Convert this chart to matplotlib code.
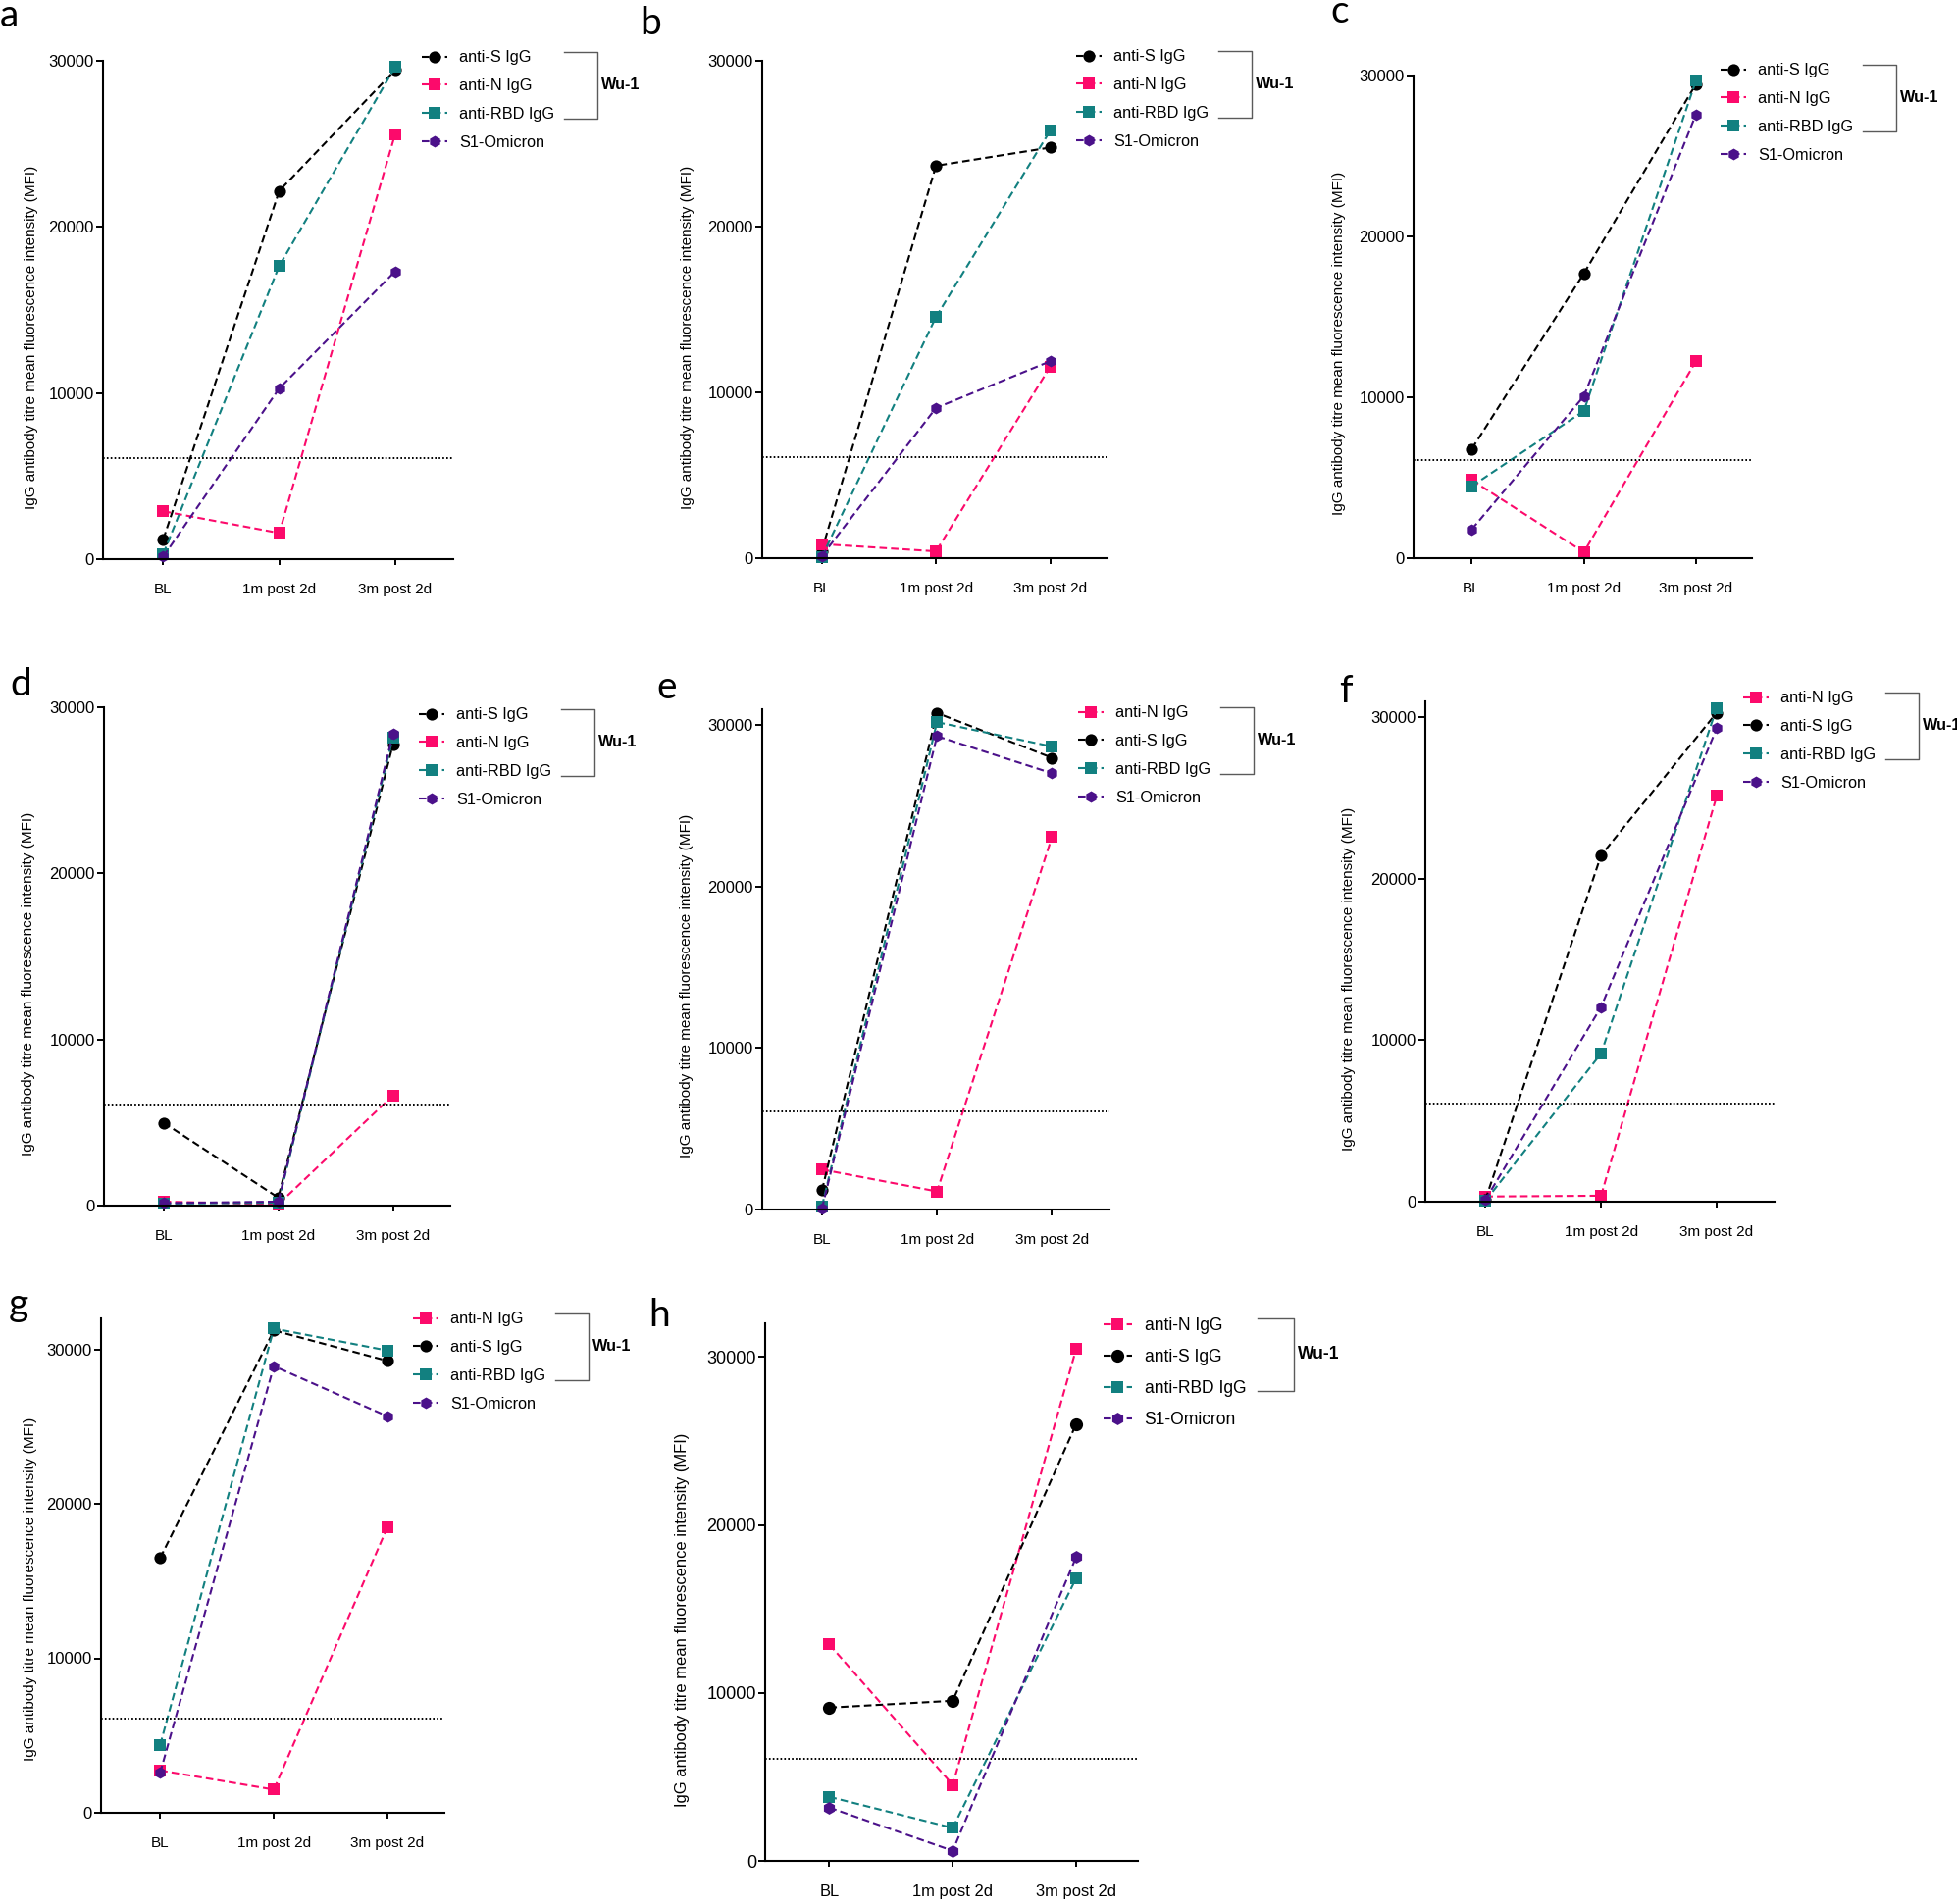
import matplotlib
matplotlib.use("Agg")
import matplotlib.pyplot as plt
from matplotlib.lines import Line2D

plt.rcParams['font.family'] = ['Liberation Sans', 'DejaVu Sans']
plt.rcParams['lines.scale_dashes'] = False

# ---- data (MFI), one row per panel a..h, columns = timepoints ----
timepoints = ['BL', '1m post 2d', '3m post 2d']
panels = ['a', 'b', 'c', 'd', 'e', 'f', 'g', 'h']

anti_s = [
    [1200, 22170, 29450],
    [430, 23670, 24770],
    [6790, 17700, 29470],
    [4990, 480, 27760],
    [1190, 30770, 27990],
    [120, 21460, 30300],
    [16490, 31220, 29250],
    [9120, 9530, 26000],
]
anti_n = [
    [2880, 1570, 25600],
    [850, 410, 11560],
    [4850, 370, 12240],
    [240, 70, 6630],
    [2480, 1120, 23080],
    [320, 370, 25140],
    [2740, 1500, 18500],
    [12880, 4520, 30480],
]
anti_rbd = [
    [320, 17660, 29640],
    [50, 14550, 25800],
    [4470, 9150, 29680],
    [120, 170, 28190],
    [200, 30200, 28690],
    [50, 9180, 30600],
    [4390, 31340, 29920],
    [3810, 1960, 16830],
]
s1_omicron = [
    [150, 10280, 17330],
    [120, 9060, 11880],
    [1790, 10070, 27590],
    [150, 240, 28390],
    [70, 29330, 27030],
    [120, 12060, 29330],
    [2580, 28910, 25660],
    [3170, 600, 18090],
]
threshold = 6100
y_max = [30000, 30000, 30000, 30000, 31000, 31000, 32000, 32000]
yticks = [0, 10000, 20000, 30000]

# legend order: a-d start with anti-S, e-h with anti-N
order_sn = ['anti-S IgG', 'anti-N IgG', 'anti-RBD IgG', 'S1-Omicron']
order_ns = ['anti-N IgG', 'anti-S IgG', 'anti-RBD IgG', 'S1-Omicron']

# ---- styles ----
colors = {'anti-S IgG': '#000000', 'anti-N IgG': '#FC0A6B',
          'anti-RBD IgG': '#128080', 'S1-Omicron': '#4B118A'}
markers = {'anti-S IgG': ('o', 8.8), 'anti-N IgG': ('s', 8.2),
           'anti-RBD IgG': ('s', 8.2), 'S1-Omicron': ('h', 8.6)}

W, H = 1995, 1941
fig = plt.figure(figsize=(W / 100, H / 100), dpi=100)


def fx(x):
    return x / W


def fy(y):
    return 1 - y / H


# pixel layout: axes (left, top of spine, right, x-axis), letter pos,
# y-label right edge / centre, first legend row y, scale
layout = [
    dict(box=(105, 62, 462, 570), letter=(0, 27), ylab=(39, 344), leg_y=57, s=1.0),
    dict(box=(777, 62, 1129, 569), letter=(652, 35), ylab=(708, 344), leg_y=56, s=1.0),
    dict(box=(1441, 77, 1786, 569), letter=(1356, 23), ylab=(1372, 350), leg_y=70, s=1.0),
    dict(box=(106, 721, 459, 1229), letter=(10, 709), ylab=(36, 1003), leg_y=727, s=1.0),
    dict(box=(777, 723, 1131, 1233), letter=(669, 712), ylab=(707, 1005), leg_y=725, s=1.0),
    dict(box=(1453, 715, 1809, 1225), letter=(1365, 716), ylab=(1382, 998), leg_y=710, s=1.0),
    dict(box=(103, 1344, 453, 1848), letter=(9, 1341), ylab=(38, 1620), leg_y=1343, s=1.0),
    dict(box=(780, 1349, 1160, 1897), letter=(661, 1352), ylab=(703, 1651), leg_y=1349, s=1.08),
]

for i, p in enumerate(panels):
    L = layout[i]
    left, top, right, bottom = L['box']
    s = L['s']
    ax = fig.add_axes([fx(left), fy(bottom), fx(right - left), (bottom - top) / H])

    values = {'anti-S IgG': anti_s[i], 'anti-N IgG': anti_n[i],
              'anti-RBD IgG': anti_rbd[i], 'S1-Omicron': s1_omicron[i]}
    order = order_sn if i < 4 else order_ns

    x = list(range(len(timepoints)))
    handles = []
    for name in order:
        m, ms = markers[name]
        ln, = ax.plot(x, values[name], color=colors[name], lw=1.5,
                      linestyle=(0, (5.5, 3)), marker=m, markersize=ms * s,
                      markeredgewidth=0, label=name, clip_on=False)
        handles.append(ln)

    ax.axhline(threshold, color='black', lw=1.4, linestyle=(0, (1.2, 1.6)))

    ax.set_xlim(-0.52, 2.5)
    ax.set_ylim(0, y_max[i])
    ax.set_xticks(x)
    ax.set_xticklabels(timepoints)
    ax.set_yticks(yticks)
    for side in ['top', 'right']:
        ax.spines[side].set_visible(False)
    for side in ['left', 'bottom']:
        ax.spines[side].set_linewidth(1.5)
    ax.tick_params(axis='y', length=5, width=1.4, pad=1.5, labelsize=12 * s)
    ax.tick_params(axis='x', length=4, width=1.4, pad=13, labelsize=11 * s)

    ax.set_ylabel('IgG antibody titre mean fluorescence intensity (MFI)',
                  fontsize=11 * s)
    ax.yaxis.set_label_coords(fx(L['ylab'][0]), fy(L['ylab'][1]),
                              transform=fig.transFigure)

    # legend
    fs = 11.7 * s
    mk_x = right - 19 * s
    row = 28.7 * s
    hl = 1.6
    lab_sp = (row / 1.389 - 0.915 * fs) / fs
    ax.legend(handles=handles, loc='upper left', frameon=False,
              fontsize=fs, handlelength=hl, handletextpad=0.74,
              labelspacing=lab_sp, borderpad=0, borderaxespad=0,
              numpoints=1,
              bbox_to_anchor=(fx(mk_x - hl * fs * 1.389 / 2),
                              fy(L['leg_y'] - 5.7 * s)),
              bbox_transform=fig.transFigure)

    # Wu-1 bracket
    y0 = L['leg_y'] - 4.5 * s
    y1 = L['leg_y'] + 63.5 * s
    bx0 = mk_x + 132 * s
    bx1 = mk_x + 166 * s
    fig.add_artist(Line2D([fx(bx0), fx(bx1), fx(bx1), fx(bx0)],
                          [fy(y0), fy(y0), fy(y1), fy(y1)],
                          color='#5a5a5a', lw=1.0))
    fig.text(fx(bx1 + 4 * s), fy((y0 + y1) / 2), 'Wu-1', fontsize=fs,
             fontweight='bold', ha='left', va='center')

    fig.text(fx(L['letter'][0]), fy(L['letter'][1]), p, fontsize=28,
             family=['Lato', 'DejaVu Sans'], ha='left', va='baseline')

fig.savefig('out.png', dpi=100)
